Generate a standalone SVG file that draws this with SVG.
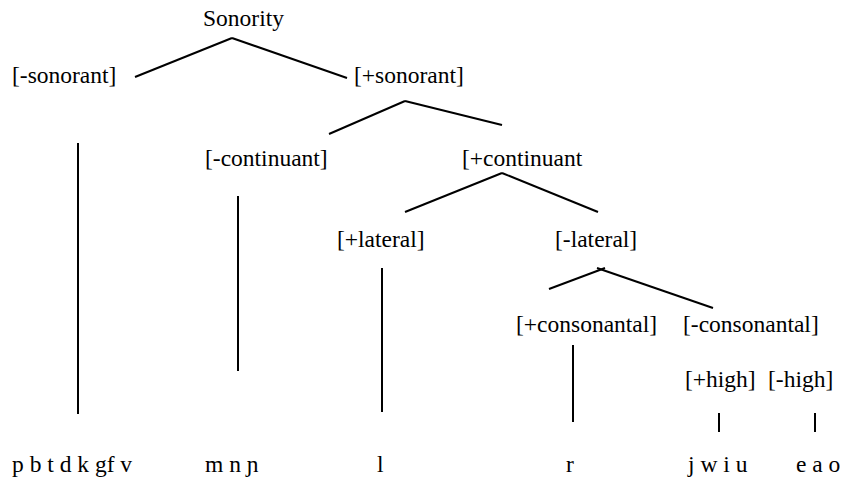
<svg xmlns="http://www.w3.org/2000/svg" width="846" height="478" viewBox="0 0 846 478">
<style>
text{font-family:'Liberation Serif','Times New Roman',serif;font-size:23.5px;fill:#000}
.c line{stroke:#000;stroke-width:2;fill:none}
</style>
<rect width="846" height="478" fill="#fff"/>
<g id="sonority"><text x="203" y="26">Sonority</text></g>
<g id="minus-sonorant"><text x="12" y="83">[-sonorant]</text></g>
<g id="plus-sonorant"><text x="354" y="83">[+sonorant]</text></g>
<g id="minus-continuant"><text x="205" y="166">[-continuant]</text></g>
<g id="plus-continuant"><text x="462" y="166">[+continuant</text></g>
<g id="plus-lateral"><text x="337" y="247">[+lateral]</text></g>
<g id="minus-lateral"><text x="555" y="247">[-lateral]</text></g>
<g id="plus-consonantal"><text x="516" y="332">[+consonantal]</text></g>
<g id="minus-consonantal"><text x="683" y="332">[-consonantal]</text></g>
<g id="plus-high"><text x="685" y="387">[+high]</text></g>
<g id="minus-high"><text x="768" y="387">[-high]</text></g>
<g id="obstruents"><text x="12" y="472">p b t d k gf v</text></g>
<g id="nasals"><text x="205" y="472">m n ɲ</text></g>
<g id="lateral-l"><text x="377" y="472">l</text></g>
<g id="rhotic-r"><text x="566" y="472">r</text></g>
<g id="high-vowels"><text x="688" y="472">j w i u</text></g>
<g id="low-vowels"><text x="796" y="472">e a o</text></g>
<g id="connectors" class="c">
<line x1="135" y1="77" x2="232" y2="38"/>
<line x1="232" y1="38" x2="347" y2="78"/>
<line x1="329" y1="134" x2="405" y2="101"/>
<line x1="405" y1="101" x2="502" y2="125"/>
<line x1="405" y1="212" x2="502" y2="173"/>
<line x1="502" y1="173" x2="598" y2="212"/>
<line x1="549" y1="289" x2="605" y2="268"/>
<line x1="597" y1="268" x2="713" y2="308"/>
<line x1="78" y1="143" x2="78" y2="414"/>
<line x1="238" y1="196" x2="238" y2="371"/>
<line x1="382" y1="268" x2="382" y2="412"/>
<line x1="573" y1="345" x2="573" y2="422"/>
<line x1="719" y1="413" x2="719" y2="432"/>
<line x1="815" y1="413" x2="815" y2="432"/>
</g>
</svg>
